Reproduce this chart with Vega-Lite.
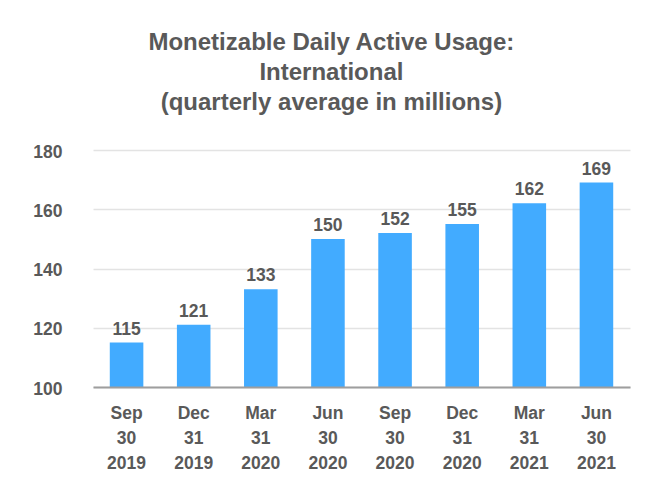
{
  "$schema": "https://vega.github.io/schema/vega-lite/v6.json",
  "width": 537,
  "height": 237,
  "autosize": {"type": "none"},
  "padding": {"left": 93, "top": 150, "right": 30, "bottom": 113},
  "background": "white",
  "title": {
    "text": ["Monetizable Daily Active Usage:", "International", "(quarterly average in millions)"],
    "font": "Liberation Sans",
    "fontSize": 24,
    "fontWeight": "bold",
    "color": "#595959",
    "lineHeight": 30,
    "anchor": "middle",
    "frame": "bounds",
    "offset": 28
  },
  "data": {
    "values": [
      {"quarter": "Sep 30 2019", "value": 115},
      {"quarter": "Dec 31 2019", "value": 121},
      {"quarter": "Mar 31 2020", "value": 133},
      {"quarter": "Jun 30 2020", "value": 150},
      {"quarter": "Sep 30 2020", "value": 152},
      {"quarter": "Dec 31 2020", "value": 155},
      {"quarter": "Mar 31 2021", "value": 162},
      {"quarter": "Jun 30 2021", "value": 169}
    ]
  },
  "config": {
    "view": {"stroke": null},
    "font": "Liberation Sans"
  },
  "encoding": {
    "x": {
      "field": "quarter",
      "type": "nominal",
      "sort": null,
      "scale": {"paddingInner": 0.5, "paddingOuter": 0.25},
      "axis": {
        "title": null,
        "labelAngle": 0,
        "labelExpr": "split(datum.value, ' ')",
        "labelFont": "Liberation Sans",
        "labelFontSize": 17.5,
        "labelFontWeight": "bold",
        "labelColor": "#595959",
        "labelLineHeight": 25,
        "labelPadding": 17,
        "ticks": false,
        "domainColor": "#9e9e9e",
        "domainWidth": 2,
        "grid": false,
        "zindex": 1
      }
    },
    "y": {
      "field": "value",
      "type": "quantitative",
      "scale": {"domain": [100, 180], "zero": false, "nice": false},
      "axis": {
        "title": null,
        "values": [100, 120, 140, 160, 180],
        "labelFont": "Liberation Sans",
        "labelFontSize": 17.5,
        "labelFontWeight": "bold",
        "labelColor": "#595959",
        "labelPadding": 31,
        "labelOffset": 2,
        "ticks": false,
        "domain": false,
        "grid": true,
        "gridColor": "#e3e3e3",
        "gridWidth": 1.5
      }
    }
  },
  "layer": [
    {
      "mark": {"type": "bar", "color": "#42abff"},
      "encoding": {"y2": {"datum": 100}}
    },
    {
      "mark": {"type": "text", "dy": -13, "fontSize": 17.5, "fontWeight": "bold", "color": "#595959", "font": "Liberation Sans"},
      "encoding": {"text": {"field": "value", "type": "quantitative"}}
    }
  ]
}
